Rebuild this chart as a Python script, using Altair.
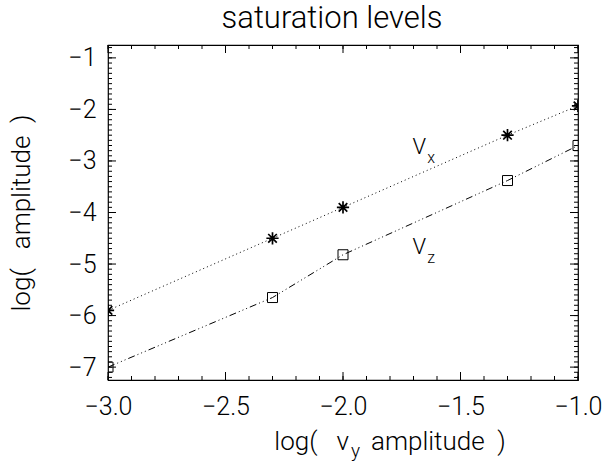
import altair as alt
import pandas as pd

# ---- data ----
x_vals = [-3.0, -2.3, -2.0, -1.3, -1.0]
vx_vals = [-5.9, -4.5, -3.9, -2.5, -1.93]
vz_vals = [-7.0, -5.65, -4.82, -3.38, -2.7]

x_major = [-3.0, -2.5, -2.0, -1.5, -1.0]
x_minor = [round(-3.0 + 0.1 * i, 1) for i in range(21)]
y_major = [-7, -6, -5, -4, -3, -2, -1]
y_minor = [round(-7.2 + 0.1 * i, 1) for i in range(65)]

ann_main = ["V", "V"]
ann_sub = ["x", "z"]
ann_x = [-1.675, -1.675]
ann_y = [-2.72, -4.66]
ann_sub_x = [-1.625, -1.625]
ann_sub_y = [-2.95, -4.88]

NB = "\u00a0"
FONT = "Roboto"
FW = 300
W, H = 470, 335
XDOM = [-3.0, -1.0]
YDOM = [-7.25, -0.75]

xs = alt.Scale(domain=XDOM, nice=False, zero=False)
ys = alt.Scale(domain=YDOM, nice=False, zero=False)
x_axis = alt.Axis(values=x_major, format=".1f", ticks=False, domain=False, grid=False,
                  labelFontSize=25, labelPadding=14, labelColor="black", title=None,
                  labelFont=FONT, labelFontWeight=FW, labelFlush=False, labelOverlap=False)
y_axis = alt.Axis(values=y_major, format="d", ticks=False, domain=False, grid=False,
                  labelFontSize=25, labelPadding=12, labelColor="black", title=None,
                  labelFont=FONT, labelFontWeight=FW, labelFlush=False, labelOverlap=False)


def X():
    return alt.X("x:Q", scale=xs, axis=x_axis)


def Y():
    return alt.Y("y:Q", scale=ys, axis=y_axis)


series = pd.DataFrame({
    "x": x_vals * 2,
    "y": vx_vals + vz_vals,
    "s": ["vx"] * len(x_vals) + ["vz"] * len(x_vals),
})
vx_df = pd.DataFrame({"x": x_vals, "y": vx_vals})
vz_df = pd.DataFrame({"x": x_vals, "y": vz_vals})

lines = alt.Chart(series).mark_line(color="black", strokeWidth=1).encode(
    x=X(), y=Y(), detail="s:N",
    strokeDash=alt.StrokeDash("s:N", scale=alt.Scale(domain=["vx", "vz"],
                              range=[[1, 3], [7, 3, 1, 3, 1, 3, 1, 3]]), legend=None),
)

asterisk = "M-1,0L1,0M0,-1L0,1M-0.7,-0.7L0.7,0.7M-0.7,0.7L0.7,-0.7"
stars = alt.Chart(vx_df).mark_point(shape=asterisk, filled=False, color="black",
                                    size=150, strokeWidth=1.7, opacity=1, clip=True).encode(x=X(), y=Y())
squares = alt.Chart(vz_df).mark_point(shape="square", filled=False, color="black",
                                      size=100, strokeWidth=1, opacity=1, clip=True).encode(x=X(), y=Y())

xmaj = pd.DataFrame({"x": x_major})
xmin = pd.DataFrame({"x": x_minor})
ymaj = pd.DataFrame({"y": y_major})
ymin = pd.DataFrame({"y": y_minor})

MAJ, MIN = 8, 4
tick_layers = [
    alt.Chart(xmaj).mark_rule(color="black").encode(x=X(), y=alt.value(H), y2=alt.value(H - MAJ)),
    alt.Chart(xmaj).mark_rule(color="black").encode(x=X(), y=alt.value(0), y2=alt.value(MAJ)),
    alt.Chart(xmin).mark_rule(color="black").encode(x=X(), y=alt.value(H), y2=alt.value(H - MIN)),
    alt.Chart(xmin).mark_rule(color="black").encode(x=X(), y=alt.value(0), y2=alt.value(MIN)),
    alt.Chart(ymaj).mark_rule(color="black").encode(y=Y(), x=alt.value(0), x2=alt.value(MAJ)),
    alt.Chart(ymaj).mark_rule(color="black").encode(y=Y(), x=alt.value(W), x2=alt.value(W - MAJ)),
    alt.Chart(ymin).mark_rule(color="black").encode(y=Y(), x=alt.value(0), x2=alt.value(MIN)),
    alt.Chart(ymin).mark_rule(color="black").encode(y=Y(), x=alt.value(W), x2=alt.value(W - MIN)),
]

ann1 = pd.DataFrame({"x": ann_x, "y": ann_y, "t": ann_main})
ann2 = pd.DataFrame({"x": ann_sub_x, "y": ann_sub_y, "t": ann_sub})
labels_main = alt.Chart(ann1).mark_text(font=FONT, fontWeight=FW, fontSize=22, color="black",
                                        align="center", baseline="middle").encode(x=X(), y=Y(), text="t:N")
labels_sub = alt.Chart(ann2).mark_text(font=FONT, fontWeight=FW, fontSize=16, color="black",
                                       align="center", baseline="middle").encode(x=X(), y=Y(), text="t:N")

one = pd.DataFrame({"t": ["saturation levels"]})
title = alt.Chart(one).mark_text(font=FONT, fontWeight=FW, fontSize=31, color="black",
                                 align="center", baseline="alphabetic").encode(
    x=alt.value(224), y=alt.value(-17), text="t:N")

XT_BASE = H + 70
xt1 = alt.Chart(pd.DataFrame({"t": ["log(" + NB * 3 + "v"]})).mark_text(
    font=FONT, fontWeight=FW, fontSize=26, color="black", align="right", baseline="alphabetic"
).encode(x=alt.value(241), y=alt.value(XT_BASE), text="t:N")
xt2 = alt.Chart(pd.DataFrame({"t": ["y"]})).mark_text(
    font=FONT, fontWeight=FW, fontSize=19, color="black", align="left", baseline="alphabetic"
).encode(x=alt.value(243), y=alt.value(XT_BASE + 7), text="t:N")
xt3 = alt.Chart(pd.DataFrame({"t": ["amplitude" + NB * 2 + ")"]})).mark_text(
    font=FONT, fontWeight=FW, fontSize=26, color="black", align="left", baseline="alphabetic"
).encode(x=alt.value(263), y=alt.value(XT_BASE), text="t:N")

yt = alt.Chart(pd.DataFrame({"t": ["log(" + NB * 3 + "amplitude" + NB * 2 + ")"]})).mark_text(
    font=FONT, fontWeight=FW, fontSize=26, color="black", align="center", baseline="middle", angle=270
).encode(x=alt.value(-86), y=alt.value(168), text="t:N")

chart = alt.layer(
    lines, stars, squares, *tick_layers, labels_main, labels_sub, title, xt1, xt2, xt3, yt
).properties(
    width=W, height=H,
    autosize=alt.AutoSizeParams(type="none"),
    padding={"left": 108, "top": 45, "right": 35, "bottom": 92},
    background="white",
).configure_view(stroke="black", strokeWidth=1.2)

chart.save("out.html", embed_options={"renderer": "svg", "actions": False})
